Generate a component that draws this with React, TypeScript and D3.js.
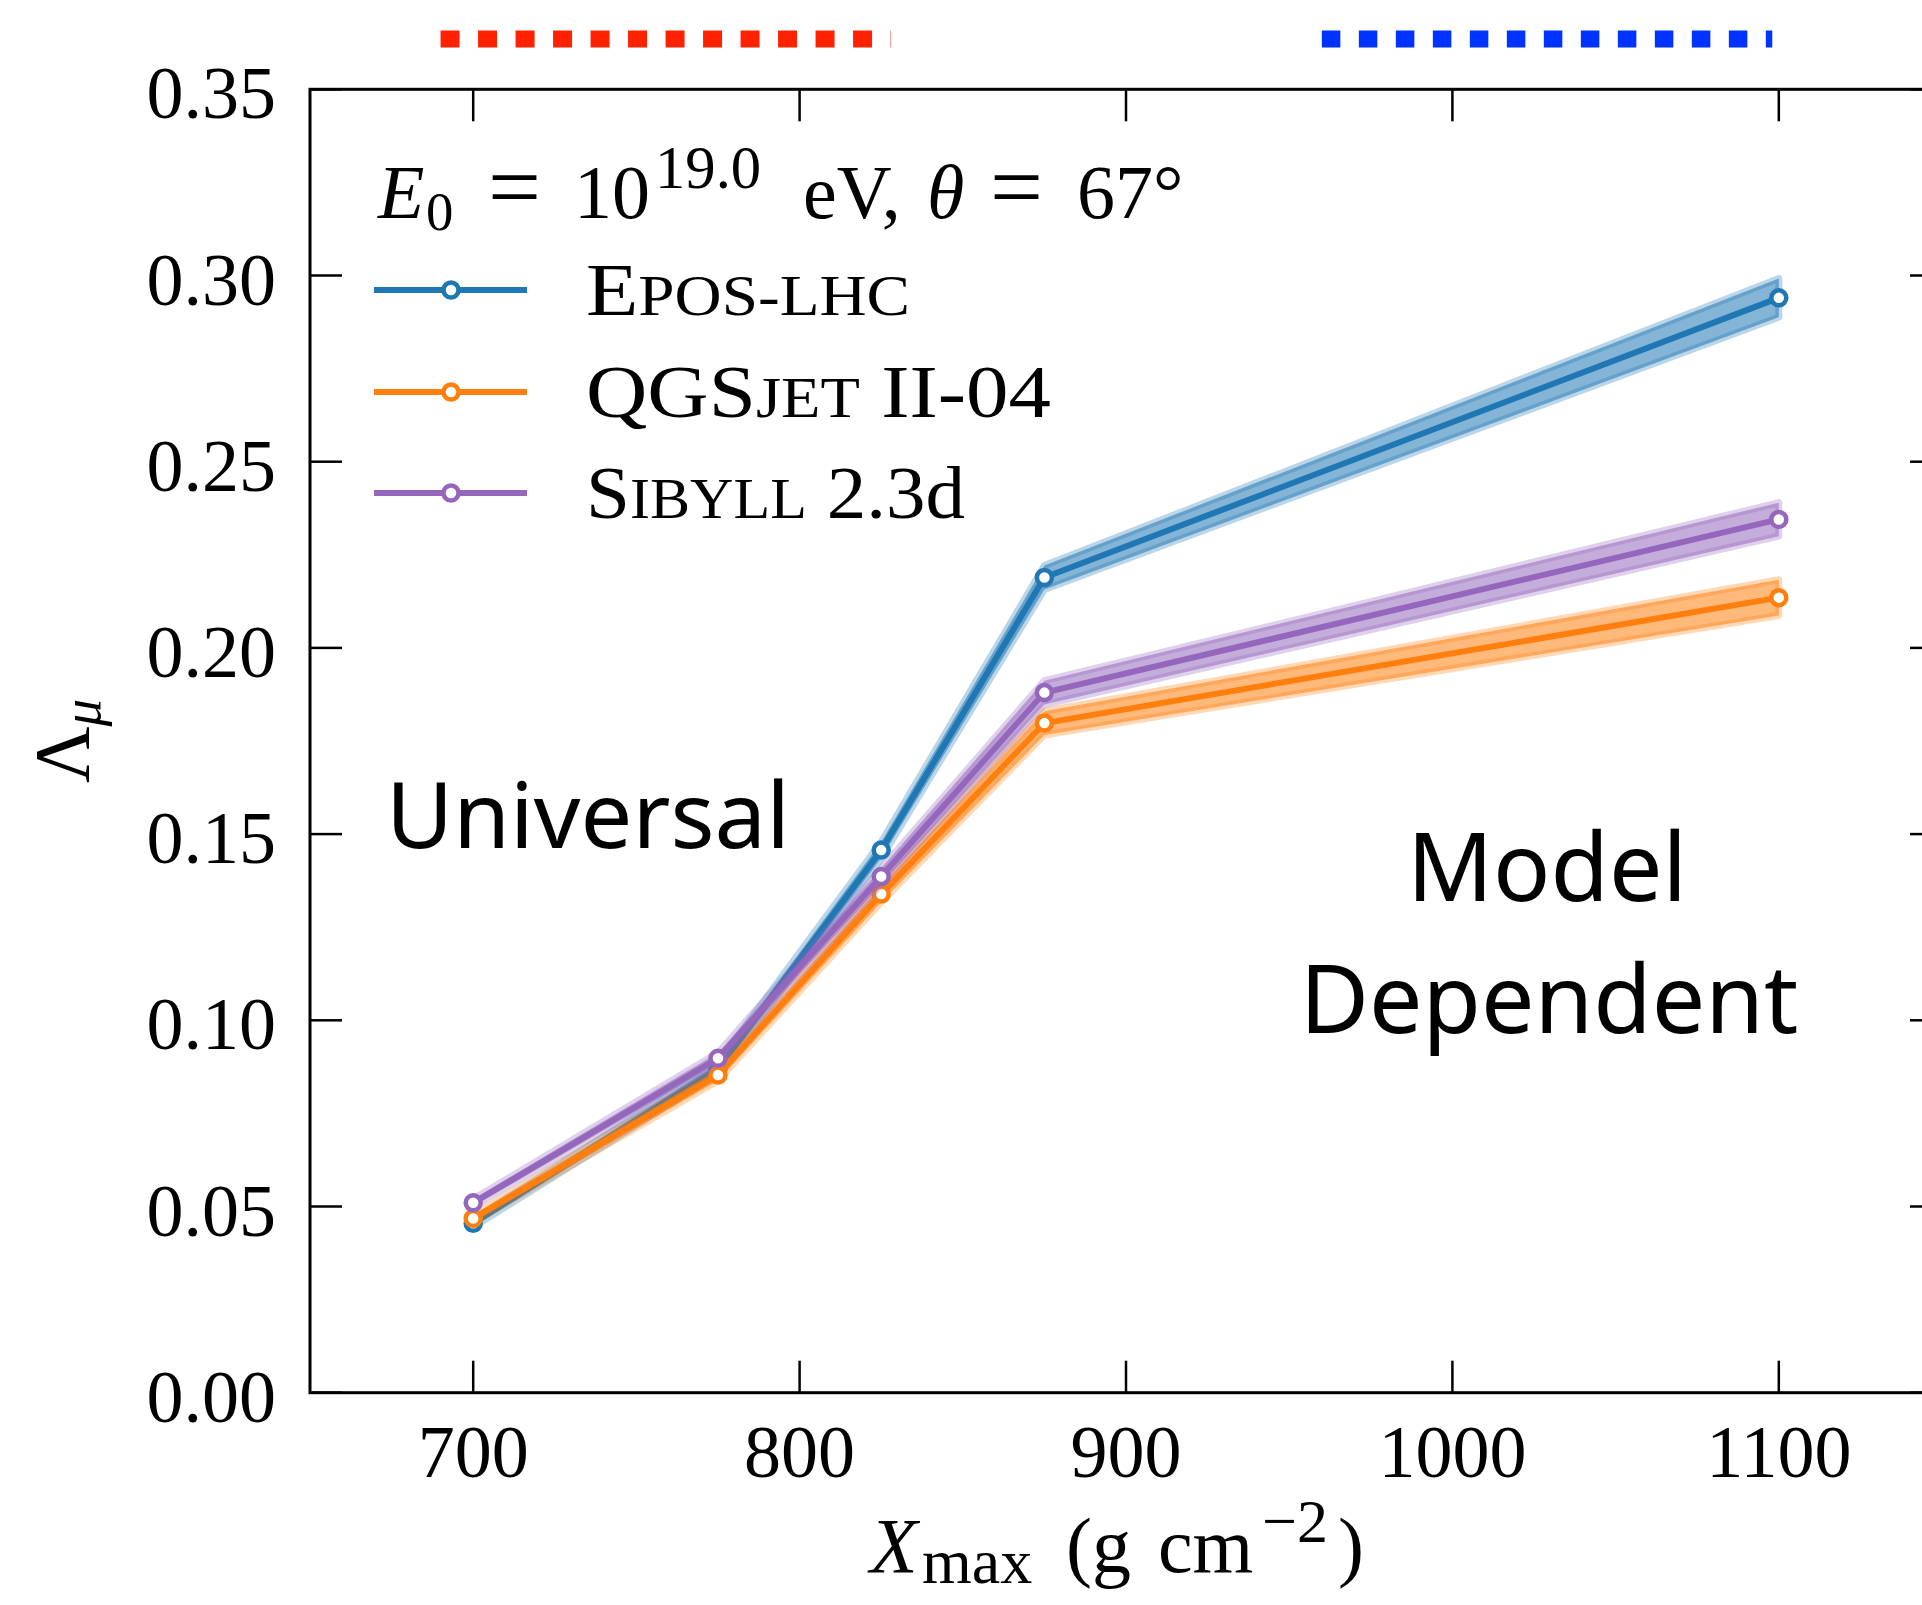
import React, { useEffect } from "react";
import * as d3 from "d3";

const xmaxValues = [700, 775, 825, 875, 1100];
const eposLHC = [0.0455, 0.087, 0.1457, 0.2189, 0.294];
const qgsjet = [0.0468, 0.0853, 0.1339, 0.1798, 0.2135];
const sibyll = [0.051, 0.0898, 0.1386, 0.188, 0.2345];
const eposErr = [0.001, 0.0015, 0.0022, 0.0032, 0.0052];
const qgsErr = [0.001, 0.0015, 0.0022, 0.0032, 0.0048];
const sibErr = [0.001, 0.0015, 0.0022, 0.0032, 0.0045];

const xTicks = [700, 800, 900, 1000, 1100];
const yTicks = [0, 0.05, 0.1, 0.15, 0.2, 0.25, 0.3, 0.35];
const yTickLabels = ["0.00", "0.05", "0.10", "0.15", "0.20", "0.25", "0.30", "0.35"];

const universalRange = [690, 828];
const modelRange = [960, 1098];

const seriesNames = ["EPOS-LHC", "QGSJET II-04", "SIBYLL 2.3d"];
const seriesColors = ["#1f77b4", "#ff7f0e", "#9467bd"];

const W = 1922;
const H = 1605;
const serif = "'Liberation Serif', 'DejaVu Serif', serif";
const sans = "'Noto Sans', 'Open Sans', sans-serif";

export default function App() {
  useEffect(() => {
    document.body.style.margin = "0";
  }, []);

  const x = d3.scaleLinear().domain([650, 1150]).range([310, 1942]);
  const y = d3.scaleLinear().domain([0, 0.35]).range([1392.7, 89.3]);

  const series = [
    { vals: eposLHC, err: eposErr },
    { vals: qgsjet, err: qgsErr },
    { vals: sibyll, err: sibErr },
  ];

  const line = d3
    .line<number>()
    .x((_, i) => x(xmaxValues[i]))
    .y((d) => y(d));

  const fs = 74;
  const sc = fs * 0.76;
  const tickLen = 32;

  const legendRows = [290, 392, 493];
  const legendWidths = [324, 465, 379];
  const legendLabels = [
    [
      { t: "E", s: fs },
      { t: "POS-LHC", s: sc },
    ],
    [
      { t: "QGS", s: fs },
      { t: "JET", s: sc },
      { t: " II-04", s: fs },
    ],
    [
      { t: "S", s: fs },
      { t: "IBYLL", s: sc },
      { t: " 2.3d", s: fs },
    ],
  ];

  const sub = fs * 0.74;

  return (
    <svg width={W} height={H} style={{ display: "block", background: "#fff" }}>
      {/* top range indicators */}
      <line
        x1={x(universalRange[0])}
        x2={x(universalRange[1])}
        y1={39}
        y2={39}
        stroke="#ff2200"
        strokeWidth={17}
        strokeDasharray="19 18.5"
      />
      <line
        x1={x(modelRange[0])}
        x2={x(modelRange[1])}
        y1={39}
        y2={39}
        stroke="#0033ff"
        strokeWidth={17}
        strokeDasharray="18.5 18.5"
      />

      {/* bands and lines */}
      {series.map((s, k) => {
        const area = d3
          .area<number>()
          .x((_, i) => x(xmaxValues[i]))
          .y0((d, i) => y(d - s.err[i]))
          .y1((d, i) => y(d + s.err[i]));
        return (
          <g key={k}>
            <path
              d={area(s.vals) || ""}
              fill={seriesColors[k]}
              fillOpacity={0.55}
              stroke={seriesColors[k]}
              strokeOpacity={0.3}
              strokeWidth={7}
              strokeLinejoin="round"
            />
            <path d={line(s.vals) || ""} fill="none" stroke={seriesColors[k]} strokeWidth={6} strokeLinejoin="round" />
            {s.vals.map((v, i) => (
              <circle key={i} cx={x(xmaxValues[i])} cy={y(v)} r={7.5} fill="#fff" stroke={seriesColors[k]} strokeWidth={4.5} />
            ))}
          </g>
        );
      })}

      {/* spines */}
      <rect x={310} y={89.3} width={1942 - 310} height={1392.7 - 89.3} fill="none" stroke="#000" strokeWidth={3} />

      {/* x ticks */}
      {xTicks.map((t) => (
        <g key={t}>
          <line x1={x(t)} x2={x(t)} y1={y(0)} y2={y(0) - tickLen} stroke="#000" strokeWidth={2.5} />
          <line x1={x(t)} x2={x(t)} y1={y(0.35)} y2={y(0.35) + tickLen} stroke="#000" strokeWidth={2.5} />
          <text x={x(t)} y={1477} textAnchor="middle" fontFamily={serif} fontSize={fs}>
            {t}
          </text>
        </g>
      ))}

      {/* y ticks */}
      {yTicks.map((t, i) => (
        <g key={t}>
          <line x1={310} x2={310 + tickLen} y1={y(t)} y2={y(t)} stroke="#000" strokeWidth={2.5} />
          <line x1={1942} x2={1942 - tickLen} y1={y(t)} y2={y(t)} stroke="#000" strokeWidth={2.5} />
          <text x={276} y={y(t) + 29} textAnchor="end" fontFamily={serif} fontSize={fs}>
            {yTickLabels[i]}
          </text>
        </g>
      ))}

      {/* axis labels */}
      <text y={1572} fontFamily={serif} fontSize={fs + 4}>
        <tspan x={870} fontStyle="italic">X</tspan>
        <tspan x={922} fontSize={64} dy={11}>max</tspan>
        <tspan x={1066} dy={-11}>(g</tspan>
        <tspan x={1158}>cm</tspan>
        <tspan x={1262} fontSize={62} dy={-30}>−2</tspan>
        <tspan x={1338} dy={30}>)</tspan>
      </text>
      <text transform={`translate(88, 741) rotate(-90)`} textAnchor="middle" fontFamily={serif} fontSize={fs + 4}>
        <tspan>Λ</tspan>
        <tspan fontStyle="italic" fontSize={sub} dy={12}>μ</tspan>
      </text>

      {/* legend title */}
      <text y={218} fontFamily={serif} fontSize={fs + 2}>
        <tspan x={378} fontStyle="italic">E</tspan>
        <tspan x={426} fontSize={sub} dy={12}>0</tspan>
        <tspan x={488} dy={-12} fontSize={fs + 20}>=</tspan>
        <tspan x={574}>10</tspan>
        <tspan x={655} fontSize={fs * 0.82} dy={-30}>19.0</tspan>
        <tspan x={803} dy={30}>eV,</tspan>
        <tspan x={927} fontStyle="italic">θ</tspan>
        <tspan x={990} fontSize={fs + 20}>=</tspan>
        <tspan x={1077}>67°</tspan>
      </text>
      {seriesNames.map((name, k) => (
        <g key={name}>
          <line x1={374} x2={527} y1={legendRows[k]} y2={legendRows[k]} stroke={seriesColors[k]} strokeWidth={6} />
          <circle cx={451} cy={legendRows[k]} r={7.5} fill="#fff" stroke={seriesColors[k]} strokeWidth={4.5} />
          <text
            x={586}
            y={legendRows[k] + 25}
            fontFamily={serif}
            fontSize={fs}
            textLength={legendWidths[k]}
            lengthAdjust="spacingAndGlyphs"
          >
            {legendLabels[k].map((p, j) => (
              <tspan key={j} fontSize={p.s}>
                {p.t}
              </tspan>
            ))}
          </text>
        </g>
      ))}

      {/* annotations */}
      <text x={386} y={848} fontFamily={sans} fontSize={92}>
        Universal
      </text>
      <text x={1547} y={901} textAnchor="middle" fontFamily={sans} fontSize={95}>
        Model
      </text>
      <text x={1549} y={1033} textAnchor="middle" fontFamily={sans} fontSize={95}>
        Dependent
      </text>
    </svg>
  );
}
